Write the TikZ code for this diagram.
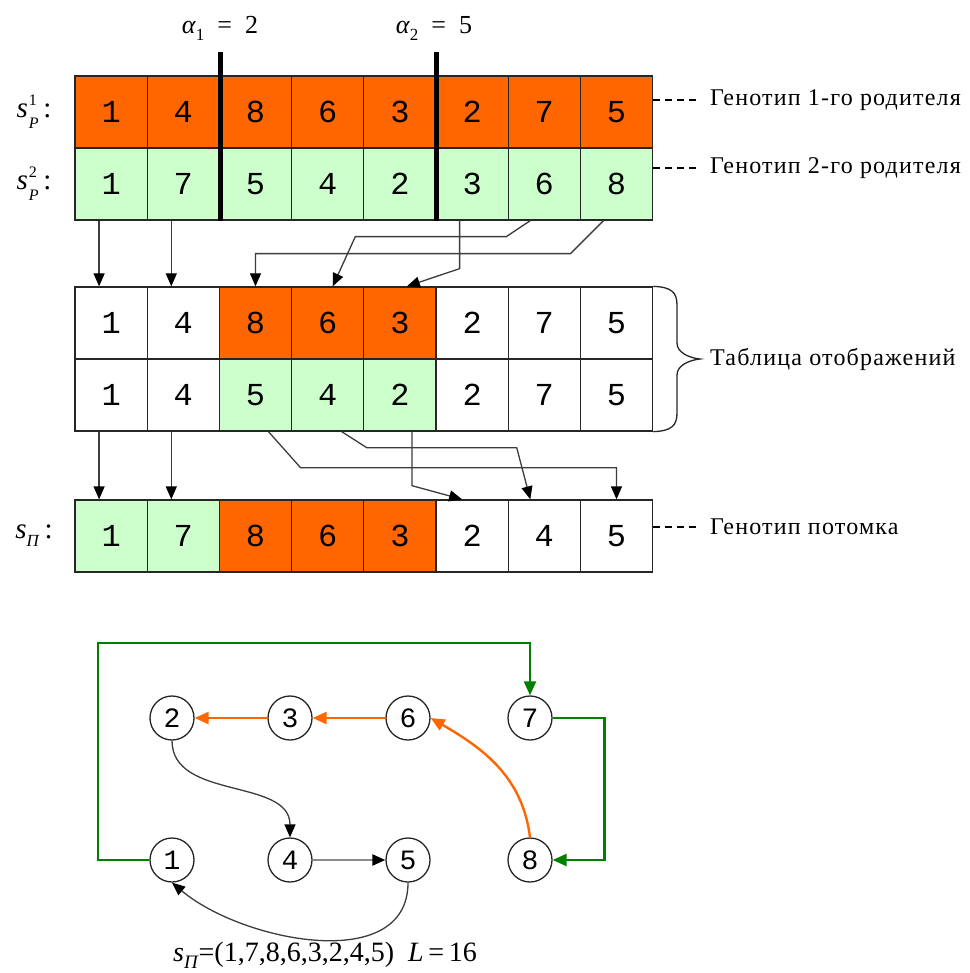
\documentclass[tikz,border=0pt]{standalone}
\usepackage{fontspec}
\setmainfont{Liberation Serif}
\newfontfamily\digitfont{Liberation Mono}
\usetikzlibrary{arrows.meta}
\definecolor{org}{RGB}{255,102,0}
\definecolor{lgr}{RGB}{204,255,204}
\definecolor{dgr}{RGB}{0,128,0}
\definecolor{lnc}{RGB}{60,60,60}
\newcommand{\subsup}[2]{\kern1pt\rlap{\raisebox{12pt}{\fontsize{16}{16}\selectfont #1}}\raisebox{-11pt}{\fontsize{16}{16}\selectfont\textit{#2}}}
\begin{document}
\begin{tikzpicture}[x=1pt,y=-1pt,
  cell/.style={draw=black!85,line width=1.3pt,minimum width=72.2pt,minimum height=72pt,inner sep=0pt,
    font=\digitfont\fontsize{32}{36}\selectfont},
  conn/.style={draw=lnc,line width=1.3pt,-{Triangle[length=13pt,width=11pt,black]}},
  bar/.style={line width=5pt,black},
  lab/.style={anchor=west,inner sep=0pt,font=\fontsize{24}{28}\selectfont\addfontfeature{LetterSpace=5}},
  mlab/.style={inner sep=0pt,font=\fontsize{26}{30}\selectfont},
  slab/.style={inner sep=0pt,font=\fontsize{29}{32}\selectfont},
  dashln/.style={line width=1.1pt,dash pattern=on 7pt off 5pt},
  brc/.style={line width=1.3pt,black!85},
  circ/.style={circle,draw=black!85,fill=white,line width=1.3pt,minimum size=44pt,inner sep=0pt,
    font=\digitfont\fontsize{28}{32}\selectfont},
  grn/.style={draw=dgr,line width=2.4pt,-{Triangle[length=14pt,width=12pt,dgr]}},
  orn/.style={draw=org,line width=2.4pt,-{Triangle[length=14pt,width=12pt,org]}},
  blk/.style={draw=lnc,line width=1.3pt,-{Triangle[length=13pt,width=11pt,black]}},
  gry/.style={draw=black!45,line width=2.4pt,-{Triangle[length=13pt,width=11pt,black]}}
]
\useasboundingbox (0,0) rectangle (969,973);

% parent rows
\foreach \v/\c [count=\i] in {1/org,4/org,8/org,6/org,3/org,2/org,7/org,5/org}
  \node[cell,fill=\c] (a\i) at ({75+72.2*(\i-0.5)},112) {\v};
\foreach \v/\c [count=\i] in {1/lgr,7/lgr,5/lgr,4/lgr,2/lgr,3/lgr,6/lgr,8/lgr}
  \node[cell,fill=\c] (b\i) at ({75+72.2*(\i-0.5)},184) {\v};
% mapping table
\foreach \v/\c [count=\i] in {1/white,4/white,8/org,6/org,3/org,2/white,7/white,5/white}
  \node[cell,fill=\c] (m\i) at ({75+72.2*(\i-0.5)},323) {\v};
\foreach \v/\c [count=\i] in {1/white,4/white,5/lgr,4/lgr,2/lgr,2/white,7/white,5/white}
  \node[cell,fill=\c] (n\i) at ({75+72.2*(\i-0.5)},395) {\v};
% offspring
\foreach \v/\c [count=\i] in {1/lgr,7/lgr,8/org,6/org,3/org,2/white,4/white,5/white}
  \node[cell,fill=\c] (o\i) at ({75+72.2*(\i-0.5)},536) {\v};

% cut bars
\draw[bar] ([yshift=23pt]a2.north east) -- (b2.south east);
\draw[bar] ([yshift=23pt]a5.north east) -- (b5.south east);
\node[mlab] (al1) at (220,28) {\textit{α}\raisebox{-7pt}{\fontsize{17}{17}\selectfont 1}\enspace=\enspace2};
\node[mlab] (al2) at (434,28) {\textit{α}\raisebox{-7pt}{\fontsize{17}{17}\selectfont 2}\enspace=\enspace5};

% left labels
\node[slab] (lp1) at (34,112) {\textit{s}\subsup{1}{Р}\,:};
\node[slab] (lp2) at (34,184) {\textit{s}\subsup{2}{Р}\,:};
\node[slab] (lo) at (34,536) {\textit{s}\raisebox{-8pt}{\fontsize{17}{17}\selectfont\textit{П}}\,:};

% right labels
\node[lab] (t1) at (710,100) {Генотип 1-го родителя};
\node[lab] (t2) at (710,168) {Генотип 2-го родителя};
\node[lab] (t3) at (710,359) {Таблица отображений};
\node[lab] (t4) at (710,527) {Генотип потомка};
\draw[dashln] ([yshift=12pt]a8.east) -- ([xshift=-10pt]t1.west);
\draw[dashln] ([yshift=16pt]b8.east) -- ([xshift=-10pt]t2.west);
\draw[dashln] ([yshift=9pt]o8.east) -- ([xshift=-10pt]t4.west);
\coordinate (btip) at (700,359);
\draw[brc] (m8.north east) .. controls (671,287) and (677,292) .. (677,305) -- (677,343)
  .. controls (677,353) and (690,358) .. (btip)
  .. controls (690,360) and (677,365) .. (677,375) -- (677,413)
  .. controls (677,426) and (671,431) .. (n8.south east);

% parents -> table
\draw[conn] ([xshift=-12pt]b1.south) -- ([xshift=-12pt]m1.north);
\draw[conn] ([xshift=-12pt]b2.south) -- ([xshift=-12pt]m2.north);
\draw[conn] ([xshift=-12.5pt]b6.south) -- ++(0,48) -- ([xshift=7pt]m5.north);
\draw[conn] ([xshift=-14pt]b7.south) -- ++(-24,16) -- ++(-151,0) -- ([xshift=5pt]m4.north);
\draw[conn] ([xshift=-13pt]b8.south) -- ++(-33,33) -| (m3.north);
% table -> offspring
\draw[conn] ([xshift=-12pt]n1.south) -- ([xshift=-12pt]o1.north);
\draw[conn] ([xshift=-12pt]n2.south) -- ([xshift=-12pt]o2.north);
\draw[conn] ([xshift=13pt]n3.south) -- ++(32,36) -| (o8.north);
\draw[conn] ([xshift=14pt]n4.south) -- ++(25,16) -- ++(150,0) -- ([xshift=-14pt]o7.north);
\draw[conn] ([xshift=12pt]n5.south) -- ++(0,54) -- ([xshift=-10pt]o6.north);

% graph
\node[circ] (c2) at (172,718) {2};
\node[circ] (c3) at (290,718) {3};
\node[circ] (c6) at (408,718) {6};
\node[circ] (c7) at (530,718) {7};
\node[circ] (c1) at (172,860) {1};
\node[circ] (c4) at (290,860) {4};
\node[circ] (c5) at (408,860) {5};
\node[circ] (c8) at (530,860) {8};

\draw[grn] (c1.west) -| (98,643) -| (c7.north);
\draw[grn] (c7.east) -| ([xshift=52pt]c8.east) -- (c8.east);
\draw[orn] (c3.west) -- (c2.east);
\draw[orn] (c6.west) -- (c3.east);
\draw[orn] (c8.north) to[out=97,in=-30] (c6.east);
\draw[blk] (c2.south) to[out=-90,in=90] (c4.north);
\draw[gry] (c4.east) -- (c5.west);
\draw[blk] (c5.south) to[out=-90,in=-40] (c1.south);

\node[inner sep=0pt,font=\fontsize{28}{32}\selectfont] (fm) at (325,955)
  {\textit{s}\raisebox{-7pt}{\fontsize{19}{19}\selectfont\textit{П}}=(1,7,8,6,3,2,4,5)\enspace\textit{L}\,=\,16};
\end{tikzpicture}
\end{document}
